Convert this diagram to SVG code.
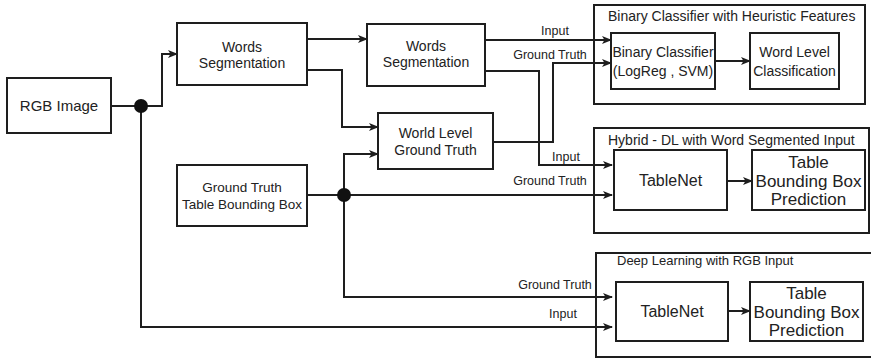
<svg xmlns="http://www.w3.org/2000/svg" width="871" height="361" viewBox="0 0 871 361">
  <defs>
    <marker id="arrow" markerUnits="userSpaceOnUse" markerWidth="10" markerHeight="10" refX="9" refY="5" orient="auto">
      <path d="M0,1 L10,5 L0,9 L2.5,5 z" fill="#1e1e1e"/>
    </marker>
    <style>
      .box { fill: #ffffff; stroke: #1e1e1e; stroke-width: 2; }
      .grp { fill: none; stroke: #1e1e1e; stroke-width: 2; }
      .wire { fill: none; stroke: #1e1e1e; stroke-width: 2; }
      .arr { marker-end: url(#arrow); }
      .dot { fill: #111111; }
      text { font-family: "Liberation Sans", Arial, sans-serif; fill: #222222; }
      .t { font-size: 14px; text-anchor: middle; }
      .big { font-size: 16px; text-anchor: middle; }
      .pred { font-size: 17px; text-anchor: middle; }
      .lbl { font-size: 12.5px; text-anchor: middle; }
      .title { font-size: 14px; }
    </style>
  </defs>

  <rect width="871" height="361" fill="#ffffff"/>

  <!-- pipeline containers -->
  <g id="group-binary">
    <rect class="grp" x="594" y="5" width="271" height="99"/>
    <text class="title" x="608" y="21">Binary Classifier with Heuristic Features</text>
  </g>
  <g id="group-hybrid">
    <rect class="grp" x="594" y="128" width="275" height="105"/>
    <text class="title" x="608" y="145">Hybrid - DL with Word Segmented Input</text>
  </g>
  <g id="group-deep">
    <rect class="grp" x="596" y="253" width="280" height="104"/>
    <text class="title" x="617" y="265" style="font-size:13px">Deep Learning with RGB Input</text>
  </g>

  <!-- connectors -->
  <g id="connectors">
    <path class="wire arr" d="M111,106 H162 V54 H177"/>
    <path class="wire arr" d="M141,106 V327 H612"/>
    <path class="wire arr" d="M307,39 H367"/>
    <path class="wire arr" d="M307,70 H342 V127 H378"/>
    <path class="wire arr" d="M307,195 H612"/>
    <path class="wire arr" d="M344,195 V154 H378"/>
    <path class="wire arr" d="M344,195 V297 H612"/>
    <path class="wire arr" d="M485,40 H611"/>
    <path class="wire arr" d="M485,71 H539 V165 H612"/>
    <path class="wire arr" d="M493,142 H553 V63 H611"/>
    <path class="wire arr" d="M715,61 H750"/>
    <path class="wire arr" d="M727,181 H752"/>
    <path class="wire arr" d="M728,311 H750"/>
    <circle class="dot" cx="141" cy="106" r="7"/>
    <circle class="dot" cx="344" cy="195" r="7"/>
    <text class="lbl" x="555" y="35">Input</text>
    <text class="lbl" x="550" y="59">Ground Truth</text>
    <text class="lbl" x="566" y="161">Input</text>
    <text class="lbl" x="550" y="185">Ground Truth</text>
    <text class="lbl" x="555" y="289">Ground Truth</text>
    <text class="lbl" x="563" y="318">Input</text>
  </g>

  <!-- nodes -->
  <g id="rgb-image">
    <rect class="box" x="7" y="78" width="104" height="55"/>
    <text class="t" x="59" y="111" style="font-size:15px">RGB Image</text>
  </g>
  <g id="words-seg-1">
    <rect class="box" x="177" y="23" width="130" height="62"/>
    <text class="t" x="242" y="52">Words</text>
    <text class="t" x="242" y="68">Segmentation</text>
  </g>
  <g id="words-seg-2">
    <rect class="box" x="367" y="24" width="118" height="62"/>
    <text class="t" x="426" y="51">Words</text>
    <text class="t" x="426" y="67">Segmentation</text>
  </g>
  <g id="word-level-gt">
    <rect class="box" x="378" y="113" width="115" height="56"/>
    <text class="t" x="435.5" y="138">World Level</text>
    <text class="t" x="435.5" y="155">Ground Truth</text>
  </g>
  <g id="gt-table-bbox">
    <rect class="box" x="177" y="165" width="130" height="61"/>
    <text class="t" x="242" y="192" style="font-size:13.5px">Ground Truth</text>
    <text class="t" x="242" y="209" style="font-size:13.5px">Table Bounding Box</text>
  </g>
  <g id="binary-classifier">
    <rect class="box" x="611" y="33" width="104" height="56"/>
    <text class="t" x="663" y="57">Binary Classifier</text>
    <text class="t" x="663" y="76">(LogReg , SVM)</text>
  </g>
  <g id="word-level-class">
    <rect class="box" x="750" y="33" width="89" height="56"/>
    <text class="t" x="794.5" y="57">Word Level</text>
    <text class="t" x="794.5" y="76">Classification</text>
  </g>
  <g id="tablenet-hybrid">
    <rect class="box" x="614" y="150" width="113" height="60"/>
    <text class="big" x="670.5" y="186">TableNet</text>
  </g>
  <g id="bbox-hybrid">
    <rect class="box" x="752" y="150" width="113" height="60"/>
    <text class="pred" x="808.5" y="168">Table</text>
    <text class="pred" x="808.5" y="187">Bounding Box</text>
    <text class="pred" x="808.5" y="205">Prediction</text>
  </g>
  <g id="tablenet-deep">
    <rect class="box" x="616" y="282" width="112" height="59"/>
    <text class="big" x="672" y="317">TableNet</text>
  </g>
  <g id="bbox-deep">
    <rect class="box" x="750" y="282" width="113" height="59"/>
    <text class="pred" x="806.5" y="299">Table</text>
    <text class="pred" x="806.5" y="318">Bounding Box</text>
    <text class="pred" x="806.5" y="336">Prediction</text>
  </g>
</svg>
